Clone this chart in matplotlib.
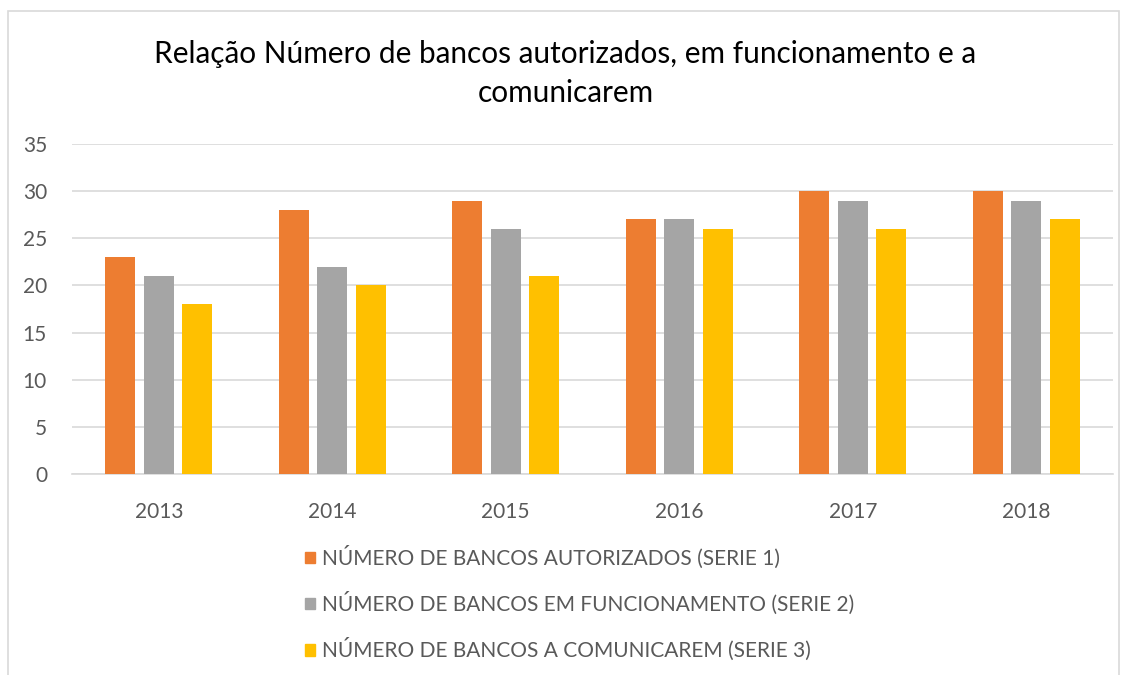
import matplotlib
matplotlib.use("Agg")
import matplotlib.pyplot as plt
import matplotlib.patches as mpatches
import numpy as np

years = ["2013", "2014", "2015", "2016", "2017", "2018"]
serie1 = [23, 28, 29, 27, 30, 30]
serie2 = [21, 22, 26, 27, 29, 29]
serie3 = [18, 20, 21, 26, 26, 27]
labels = ["NÚMERO DE BANCOS AUTORIZADOS (SERIE 1)",
          "NÚMERO DE BANCOS EM FUNCIONAMENTO (SERIE 2)",
          "NÚMERO DE BANCOS A COMUNICAREM (SERIE 3)"]
colors = ["#ED7D31", "#A5A5A5", "#FFC000"]
title = "Relação Número de bancos autorizados, em funcionamento e a\ncomunicarem"

plt.rcParams['font.family'] = ['Lato', 'DejaVu Sans']
W, H = 1131, 675
fig = plt.figure(figsize=(W/100, H/100), dpi=100)

# outer chart border
fig.patches.append(mpatches.Rectangle((8/W, -0.1), (1119-8)/W, (H-11)/H + 0.1,
                                      transform=fig.transFigure, fill=False,
                                      edgecolor="#D9D9D9", linewidth=1.2))

ax = fig.add_axes([72/W, (H-474)/H, (1113-72)/W, 330/H])
x = np.arange(len(years))
bw = 0.173
off = 0.221
for i, (vals, c, lab) in enumerate(zip([serie1, serie2, serie3], colors, labels)):
    ax.bar(x + (i-1)*off, vals, width=bw, color=c, label=lab, zorder=3)

ax.set_xlim(-0.5, len(years)-0.5)
ax.set_ylim(0, 35)
ax.set_yticks(range(0, 36, 5))
ax.set_xticks(x)
ax.set_xticklabels(years)
ax.grid(axis='y', color="#D9D9D9", linewidth=1.2, zorder=0)
for s in ['top', 'right', 'left']:
    ax.spines[s].set_visible(False)
ax.spines['bottom'].set_color("#D9D9D9")
ax.spines['bottom'].set_linewidth(1.2)
ax.tick_params(axis='both', length=0, labelsize=15, labelcolor="#595959")
ax.tick_params(axis='y', pad=18)
ax.tick_params(axis='x', pad=20)

fig.text(0.5, (H-40)/H, title, ha='center', va='top', fontsize=21.4,
         color="#000000", linespacing=1.5)

handles = [mpatches.Patch(color=c) for c in colors]
leg = fig.legend(handles, labels, loc='upper left',
                 bbox_to_anchor=(286/W, (H-527)/H), frameon=False,
                 fontsize=15, labelcolor="#595959", handlelength=0.5,
                 handleheight=0.5, handletextpad=0.35, labelspacing=1.1)

fig.savefig("out.png", dpi=100, facecolor="white")
